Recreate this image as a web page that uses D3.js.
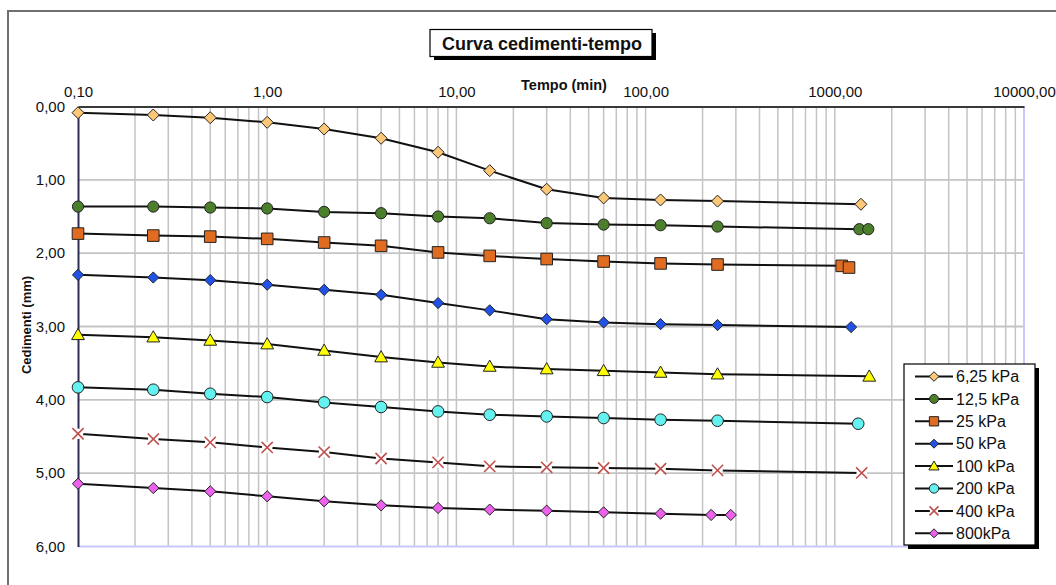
<!DOCTYPE html>
<html>
<head>
<meta charset="utf-8">
<script src="https://cdn.jsdelivr.net/npm/d3@7"></script>
<style>
	body { margin: 0; background: #fff; }
	text { font-family: 'Liberation Sans', Arial, sans-serif; fill: #111; }
	.label { font-weight: bold; }
</style>
</head>
<body>
<div id="chart"></div>
<script>
let width = 1056
let height = 585

let margins = {
	top : 106.5,
	right : 32,
	bottom : 38.5,
	left : 78,
}

// tempi (min) e cedimenti (mm)
let tBase = [0.1, 0.25, 0.5, 1, 2, 4, 8, 15, 30, 60, 120, 240]

let t625 = tBase.concat([1374])
let s625 = [0.085, 0.116, 0.153, 0.216, 0.307, 0.433, 0.624, 0.875, 1.128, 1.247, 1.274, 1.29, 1.333]

let t125 = tBase.concat([1348, 1503])
let s125 = [1.365, 1.365, 1.378, 1.39, 1.437, 1.455, 1.50, 1.524, 1.59, 1.61, 1.619, 1.637, 1.673, 1.673]

let t25 = tBase.concat([1088, 1189])
let s25 = [1.733, 1.76, 1.774, 1.805, 1.855, 1.90, 1.99, 2.037, 2.08, 2.114, 2.14, 2.155, 2.173, 2.196]

let t50 = tBase.concat([1219])
let s50 = [2.296, 2.332, 2.368, 2.43, 2.5, 2.568, 2.68, 2.78, 2.9, 2.945, 2.968, 2.98, 3.008]

let t100 = tBase.concat([1521])
let s100 = [3.113, 3.145, 3.19, 3.24, 3.327, 3.417, 3.49, 3.545, 3.58, 3.604, 3.627, 3.65, 3.68]

let t200 = tBase.concat([1330])
let s200 = [3.83, 3.862, 3.917, 3.962, 4.035, 4.098, 4.158, 4.203, 4.226, 4.248, 4.271, 4.285, 4.326]

let t400 = tBase.concat([1387])
let s400 = [4.462, 4.535, 4.58, 4.649, 4.712, 4.80, 4.853, 4.907, 4.92, 4.93, 4.94, 4.962, 4.997]

let t800 = [0.1, 0.25, 0.5, 1, 2, 4, 8, 15, 30, 60, 120, 222, 282]
let s800 = [5.144, 5.203, 5.248, 5.316, 5.384, 5.439, 5.474, 5.497, 5.511, 5.534, 5.552, 5.57, 5.57]

let loadLabels = ['6,25 kPa', '12,5 kPa', '25 kPa', '50 kPa', '100 kPa', '200 kPa', '400 kPa', '800kPa']
let xTicks = [0.1, 1, 10, 100, 1000, 10000]
let yTicks = [0, 1, 2, 3, 4, 5, 6]

let markers = ['diamond', 'circle', 'square', 'diamond', 'triangle', 'circle', 'cross', 'diamond']
let fills = ['#fcc878', '#4b7f2b', '#e06c22', '#2152e8', '#ffff00', '#63f2f0', 'none', '#ec62ec']
let sizes = [6, 5.6, 5.8, 5.6, 6.4, 5.8, 5.6, 5.6]

let series = [
	[t625, s625], [t125, s125], [t25, s25], [t50, s50],
	[t100, s100], [t200, s200], [t400, s400], [t800, s800],
].map((p, i) => {
	return {
		label : loadLabels[i],
		marker : markers[i],
		fill : fills[i],
		size : sizes[i],
		values : p[0].map((t, j) => ({ t : t, s : p[1][j] })),
	}
})

function fmt(x) {
	return d3.format('.2f')(x).replace('.', ',')
}

function markerPath(type, r) {
	if (type == 'diamond') {
		return `M0,${-r}L${r},0L0,${r}L${-r},0Z`
	} else if (type == 'square') {
		return `M${-r},${-r}H${r}V${r}H${-r}Z`
	} else if (type == 'triangle') {
		return `M0,${-r}L${r},${r * 0.75}L${-r},${r * 0.75}Z`
	} else if (type == 'circle') {
		return d3.symbol().type(d3.symbolCircle).size(Math.PI * r * r)()
	} else {
		return `M${-r},${-r}L${r},${r}M${-r},${r}L${r},${-r}`
	}
}

function drawMarker(g, d, size) {
	if (d.marker == 'cross') {
		g.append('circle')
			.attr('r', size * 0.95)
			.attr('fill', '#fff')
		g.append('path')
			.attr('d', markerPath('cross', size))
			.attr('stroke', '#c0504d')
			.attr('stroke-width', 1.6)
			.attr('fill', 'none')
	} else {
		g.append('path')
			.attr('d', markerPath(d.marker, size))
			.attr('fill', d.fill)
			.attr('stroke', '#222')
			.attr('stroke-width', 1)
	}
}

let xScale = d3.scaleLog()
	.domain([0.1, 10000])
	.range([margins.left, width - margins.right])

let yScale = d3.scaleLinear()
	.domain([0, 6])
	.range([margins.top, height - margins.bottom])

let svg = d3.select('#chart').append('svg')
	.attr('width', width)
	.attr('height', height)

// cornice esterna
svg.append('path')
	.attr('d', `M8,${height}V11H${width}`)
	.attr('fill', 'none')
	.attr('stroke', '#707070')
	.attr('stroke-width', 2)

// griglia
let grid = svg.append('g')

let minor = []
for (let e = -1; e < 4; e++) {
	for (let k = 2; k <= 10; k++) {
		minor.push(k * Math.pow(10, e))
	}
}

grid.selectAll('.vgrid')
	.data(minor.filter((v) => v < 10000))
	.enter()
	.append('line')
	.attr('x1', (d) => xScale(d))
	.attr('x2', (d) => xScale(d))
	.attr('y1', yScale(0))
	.attr('y2', yScale(6))
	.attr('stroke', '#c4c4c4')
	.attr('stroke-width', 1.5)

grid.selectAll('.hgrid')
	.data(yTicks.filter((v) => v > 0 && v < 6))
	.enter()
	.append('line')
	.attr('x1', xScale(0.1))
	.attr('x2', xScale(10000))
	.attr('y1', (d) => yScale(d))
	.attr('y2', (d) => yScale(d))
	.attr('stroke', '#c4c4c4')
	.attr('stroke-width', 1.8)

// bordi area del grafico
svg.append('line')
	.attr('x1', xScale(10000)).attr('x2', xScale(10000))
	.attr('y1', yScale(0)).attr('y2', yScale(6))
	.attr('stroke', '#c8c8ff').attr('stroke-width', 2)

svg.append('line')
	.attr('x1', xScale(0.1)).attr('x2', xScale(10000))
	.attr('y1', yScale(6)).attr('y2', yScale(6))
	.attr('stroke', '#c8c8ff').attr('stroke-width', 2)

let xAxis = d3.axisTop(xScale)
	.tickValues(xTicks)
	.tickFormat(fmt)
	.tickSize(0)
	.tickPadding(10)

let yAxis = d3.axisLeft(yScale)
	.tickValues(yTicks)
	.tickFormat(fmt)
	.tickSize(0)
	.tickPadding(13)

let gx = svg.append('g')
	.attr('transform', `translate(0,${yScale(0)})`)
	.call(xAxis)

gx.select('.domain')
	.attr('stroke', '#3a3a3a')
	.attr('stroke-width', 2)

let gy = svg.append('g')
	.attr('transform', `translate(${xScale(0.1)},0)`)
	.call(yAxis)

gy.select('.domain')
	.attr('stroke', '#2e2e55')
	.attr('stroke-width', 2)

svg.selectAll('.tick text')
	.attr('font-family', "'Liberation Sans', Arial, sans-serif")
	.attr('font-size', 15)
	.attr('fill', '#111')

// titoli assi
svg.append('text')
	.text('Tempo (min)')
	.attr('class', 'label')
	.attr('text-anchor', 'middle')
	.attr('font-size', 14.5)
	.attr('x', 564)
	.attr('y', 90)

svg.append('text')
	.text('Cedimenti (mm)')
	.attr('class', 'label')
	.attr('text-anchor', 'middle')
	.attr('font-size', 13)
	.attr('transform', 'translate(31,325) rotate(-90)')

// titolo
let titleG = svg.append('g')
titleG.append('rect')
	.attr('x', 434).attr('y', 33)
	.attr('width', 222).attr('height', 27)
	.attr('fill', '#000')
titleG.append('rect')
	.attr('x', 430).attr('y', 29.5)
	.attr('width', 222).attr('height', 27)
	.attr('fill', '#fff')
	.attr('stroke', '#000')
	.attr('stroke-width', 1.2)
titleG.append('text')
	.text('Curva cedimenti-tempo')
	.attr('class', 'label')
	.attr('text-anchor', 'middle')
	.attr('font-size', 18)
	.attr('x', 542)
	.attr('y', 49.5)

// curve
let line = d3.line()
	.x((d) => xScale(d.t))
	.y((d) => yScale(d.s))

let marks = svg.append('g')

series.forEach((d) => {
	marks.append('path')
		.datum(d.values)
		.attr('d', line)
		.attr('fill', 'none')
		.attr('stroke', '#111')
		.attr('stroke-width', 2)
})

series.forEach((d) => {
	marks.append('g')
		.selectAll('g')
		.data(d.values)
		.enter()
		.append('g')
		.attr('transform', (v) => `translate(${xScale(v.t)},${yScale(v.s)})`)
		.each(function () {
			drawMarker(d3.select(this), d, d.size)
		})
})

// legenda
let legend = svg.append('g')

legend.append('rect')
	.attr('x', 908).attr('y', 368)
	.attr('width', 131).attr('height', 181)
	.attr('fill', '#000')
legend.append('rect')
	.attr('x', 904).attr('y', 364)
	.attr('width', 131).attr('height', 181)
	.attr('fill', '#fff')
	.attr('stroke', '#000')
	.attr('stroke-width', 1.2)

let rows = legend.selectAll('.row')
	.data(series)
	.enter()
	.append('g')
	.attr('transform', (d, i) => `translate(0,${376.5 + i * 22.4})`)

rows.append('line')
	.attr('x1', 915).attr('x2', 953)
	.attr('stroke', '#111')
	.attr('stroke-width', 2)

rows.append('g')
	.attr('transform', 'translate(934,0)')
	.each(function (d) {
		drawMarker(d3.select(this), d, d.size * 0.8)
	})

rows.append('text')
	.text((d) => d.label)
	.attr('x', 956)
	.attr('dy', '0.36em')
	.attr('font-size', 16)
</script>
</body>
</html>
